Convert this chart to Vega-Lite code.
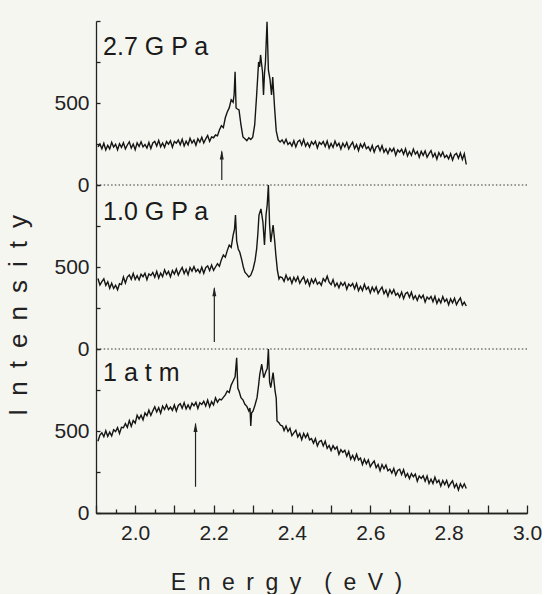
{
"$schema": "https://vega.github.io/schema/vega-lite/v6.json",
"background": "#f6f6f1",
"padding": {"left": 5, "top": 19, "right": 0, "bottom": 0},
"spacing": 0,
"bounds": "flush",
"config": {
  "font": "Liberation Sans",
  "view": {"stroke": null},
  "concat": {"spacing": 0},
  "axis": {"labelFont": "Liberation Sans", "titleFont": "Liberation Sans", "labelColor": "#222", "domainColor": "#222", "tickColor": "#222", "titleColor": "#222", "grid": false, "titleFontWeight": "normal", "labelFontSize": 21, "domainWidth": 1.3, "tickWidth": 1.3}
},
"datasets": {
"one": [{}],
"p27": [
{"e":1.905,"i":232},{"e":1.91,"i":250},{"e":1.915,"i":221},{"e":1.92,"i":255},{"e":1.925,"i":214},{"e":1.93,"i":242},{"e":1.935,"i":220},{"e":1.94,"i":260},{"e":1.945,"i":231},{"e":1.95,"i":248},{"e":1.955,"i":215},{"e":1.96,"i":252},{"e":1.965,"i":230},{"e":1.97,"i":258},{"e":1.975,"i":220},{"e":1.98,"i":244},{"e":1.985,"i":263},{"e":1.99,"i":225},{"e":1.995,"i":250},{"e":2.0,"i":215},
{"e":2.005,"i":257},{"e":2.01,"i":235},{"e":2.015,"i":263},{"e":2.02,"i":232},{"e":2.025,"i":247},{"e":2.03,"i":225},{"e":2.035,"i":259},{"e":2.04,"i":222},{"e":2.045,"i":256},{"e":2.05,"i":266},{"e":2.055,"i":238},{"e":2.06,"i":272},{"e":2.065,"i":233},{"e":2.07,"i":256},{"e":2.075,"i":230},{"e":2.08,"i":265},{"e":2.085,"i":249},{"e":2.09,"i":270},{"e":2.095,"i":231},{"e":2.1,"i":266},
{"e":2.105,"i":255},{"e":2.11,"i":274},{"e":2.115,"i":245},{"e":2.12,"i":279},{"e":2.125,"i":238},{"e":2.13,"i":267},{"e":2.135,"i":245},{"e":2.14,"i":285},{"e":2.145,"i":256},{"e":2.15,"i":274},{"e":2.155,"i":242},{"e":2.16,"i":282},{"e":2.165,"i":261},{"e":2.17,"i":291},{"e":2.175,"i":256},{"e":2.18,"i":281},{"e":2.185,"i":302},{"e":2.19,"i":266},{"e":2.195,"i":293},
{"e":2.2,"i":288},{"e":2.205,"i":305},{"e":2.21,"i":300},{"e":2.215,"i":335},{"e":2.22,"i":362},{"e":2.225,"i":350},{"e":2.23,"i":410},{"e":2.235,"i":445},{"e":2.24,"i":470},{"e":2.245,"i":520},{"e":2.25,"i":505},{"e":2.2525,"i":550},{"e":2.255,"i":690},{"e":2.2575,"i":470},{"e":2.26,"i":465},{"e":2.265,"i":458},{"e":2.27,"i":366},{"e":2.275,"i":293},{"e":2.28,"i":282},{"e":2.285,"i":270},{"e":2.29,"i":288},{"e":2.295,"i":278},{"e":2.3,"i":292},{"e":2.305,"i":366},{"e":2.31,"i":549},{"e":2.315,"i":750},{"e":2.3175,"i":720},{"e":2.32,"i":793},{"e":2.325,"i":689},{"e":2.3275,"i":549},{"e":2.33,"i":680},{"e":2.3325,"i":750},{"e":2.3365,"i":995},{"e":2.34,"i":700},{"e":2.344,"i":646},{"e":2.348,"i":549},{"e":2.351,"i":659},{"e":2.356,"i":463},{"e":2.36,"i":330},{"e":2.365,"i":275},{"e":2.37,"i":262},
{"e":2.375,"i":275},{"e":2.38,"i":253},{"e":2.385,"i":279},{"e":2.39,"i":247},{"e":2.395,"i":260},{"e":2.4,"i":238},{"e":2.405,"i":270},{"e":2.41,"i":232},{"e":2.415,"i":264},{"e":2.42,"i":274},{"e":2.425,"i":244},{"e":2.43,"i":277},{"e":2.435,"i":237},{"e":2.44,"i":258},{"e":2.445,"i":231},{"e":2.45,"i":264},{"e":2.455,"i":247},{"e":2.46,"i":267},{"e":2.465,"i":226},{"e":2.47,"i":260},
{"e":2.475,"i":248},{"e":2.48,"i":265},{"e":2.485,"i":235},{"e":2.49,"i":268},{"e":2.495,"i":225},{"e":2.5,"i":253},{"e":2.505,"i":229},{"e":2.51,"i":268},{"e":2.515,"i":238},{"e":2.52,"i":254},{"e":2.525,"i":219},{"e":2.53,"i":255},{"e":2.535,"i":232},{"e":2.54,"i":259},{"e":2.545,"i":220},{"e":2.55,"i":243},{"e":2.555,"i":261},{"e":2.56,"i":222},{"e":2.565,"i":246},{"e":2.57,"i":210},
{"e":2.575,"i":250},{"e":2.58,"i":228},{"e":2.585,"i":254},{"e":2.59,"i":221},{"e":2.595,"i":233},{"e":2.6,"i":209},{"e":2.605,"i":241},{"e":2.61,"i":201},{"e":2.615,"i":232},{"e":2.62,"i":240},{"e":2.625,"i":209},{"e":2.63,"i":240},{"e":2.635,"i":200},{"e":2.64,"i":220},{"e":2.645,"i":191},{"e":2.65,"i":223},{"e":2.655,"i":205},{"e":2.66,"i":224},{"e":2.665,"i":182},{"e":2.67,"i":214},
{"e":2.675,"i":201},{"e":2.68,"i":218},{"e":2.685,"i":187},{"e":2.69,"i":220},{"e":2.695,"i":177},{"e":2.7,"i":204},{"e":2.705,"i":180},{"e":2.71,"i":219},{"e":2.715,"i":188},{"e":2.72,"i":204},{"e":2.725,"i":169},{"e":2.73,"i":205},{"e":2.735,"i":181},{"e":2.74,"i":208},{"e":2.745,"i":169},{"e":2.75,"i":191},{"e":2.755,"i":210},{"e":2.76,"i":171},{"e":2.765,"i":194},{"e":2.77,"i":158},
{"e":2.775,"i":198},{"e":2.78,"i":175},{"e":2.785,"i":201},{"e":2.79,"i":168},{"e":2.795,"i":181},{"e":2.8,"i":159},{"e":2.805,"i":191},{"e":2.81,"i":152},{"e":2.815,"i":184},{"e":2.82,"i":193},{"e":2.825,"i":163},{"e":2.83,"i":195},{"e":2.835,"i":156},{"e":2.84,"i":191},{"e":2.845,"i":125}
],
"p10": [
{"e":1.905,"i":430},{"e":1.91,"i":390},{"e":1.915,"i":411},{"e":1.92,"i":428},{"e":1.925,"i":388},{"e":1.93,"i":410},{"e":1.935,"i":370},{"e":1.94,"i":401},{"e":1.945,"i":369},{"e":1.95,"i":389},{"e":1.955,"i":361},{"e":1.96,"i":398},{"e":1.965,"i":393},{"e":1.97,"i":439},{"e":1.975,"i":403},{"e":1.98,"i":439},{"e":1.985,"i":451},{"e":1.99,"i":425},{"e":1.995,"i":460},{"e":2.0,"i":424},
{"e":2.005,"i":447},{"e":2.01,"i":421},{"e":2.015,"i":456},{"e":2.02,"i":441},{"e":2.025,"i":462},{"e":2.03,"i":423},{"e":2.035,"i":458},{"e":2.04,"i":448},{"e":2.045,"i":467},{"e":2.05,"i":438},{"e":2.055,"i":474},{"e":2.06,"i":433},{"e":2.065,"i":463},{"e":2.07,"i":441},{"e":2.075,"i":483},{"e":2.08,"i":454},{"e":2.085,"i":473},{"e":2.09,"i":440},{"e":2.095,"i":479},{"e":2.1,"i":457},
{"e":2.105,"i":487},{"e":2.11,"i":451},{"e":2.115,"i":476},{"e":2.12,"i":497},{"e":2.125,"i":460},{"e":2.13,"i":486},{"e":2.135,"i":453},{"e":2.14,"i":496},{"e":2.145,"i":475},{"e":2.15,"i":503},{"e":2.155,"i":472},{"e":2.16,"i":486},{"e":2.165,"i":465},{"e":2.17,"i":499},{"e":2.175,"i":462},{"e":2.18,"i":496},{"e":2.185,"i":507},{"e":2.19,"i":478},{"e":2.195,"i":512},
{"e":2.2,"i":480},{"e":2.205,"i":500},{"e":2.21,"i":520},{"e":2.215,"i":505},{"e":2.22,"i":545},{"e":2.225,"i":573},{"e":2.23,"i":560},{"e":2.235,"i":600},{"e":2.24,"i":634},{"e":2.245,"i":620},{"e":2.25,"i":695},{"e":2.2535,"i":730},{"e":2.256,"i":817},{"e":2.259,"i":660},{"e":2.263,"i":610},{"e":2.267,"i":590},{"e":2.272,"i":543},{"e":2.276,"i":500},{"e":2.28,"i":469},{"e":2.285,"i":455},{"e":2.29,"i":439},{"e":2.295,"i":450},{"e":2.301,"i":488},{"e":2.306,"i":540},{"e":2.31,"i":610},{"e":2.313,"i":700},{"e":2.316,"i":817},{"e":2.321,"i":854},{"e":2.326,"i":774},{"e":2.33,"i":634},{"e":2.334,"i":817},{"e":2.337,"i":880},{"e":2.34,"i":1000},{"e":2.343,"i":760},{"e":2.346,"i":652},{"e":2.352,"i":756},{"e":2.356,"i":660},{"e":2.359,"i":573},{"e":2.363,"i":480},{"e":2.367,"i":427},{"e":2.37,"i":440},
{"e":2.375,"i":436},{"e":2.38,"i":412},{"e":2.385,"i":451},{"e":2.39,"i":420},{"e":2.395,"i":436},{"e":2.4,"i":401},{"e":2.405,"i":437},{"e":2.41,"i":413},{"e":2.415,"i":440},{"e":2.42,"i":401},{"e":2.425,"i":423},{"e":2.43,"i":440},{"e":2.435,"i":400},{"e":2.44,"i":423},{"e":2.445,"i":386},{"e":2.45,"i":426},{"e":2.455,"i":402},{"e":2.46,"i":428},{"e":2.465,"i":395},{"e":2.47,"i":408},
{"e":2.475,"i":389},{"e":2.48,"i":429},{"e":2.485,"i":412},{"e":2.49,"i":444},{"e":2.495,"i":407},{"e":2.5,"i":392},{"e":2.505,"i":423},{"e":2.51,"i":382},{"e":2.515,"i":402},{"e":2.52,"i":373},{"e":2.525,"i":405},{"e":2.53,"i":387},{"e":2.535,"i":406},{"e":2.54,"i":364},{"e":2.545,"i":396},{"e":2.55,"i":383},{"e":2.555,"i":399},{"e":2.56,"i":367},{"e":2.565,"i":399},{"e":2.57,"i":355},
{"e":2.575,"i":381},{"e":2.58,"i":356},{"e":2.585,"i":395},{"e":2.59,"i":363},{"e":2.595,"i":378},{"e":2.6,"i":342},{"e":2.605,"i":377},{"e":2.61,"i":352},{"e":2.615,"i":378},{"e":2.62,"i":339},{"e":2.625,"i":360},{"e":2.63,"i":377},{"e":2.635,"i":337},{"e":2.64,"i":359},{"e":2.645,"i":322},{"e":2.65,"i":361},{"e":2.655,"i":337},{"e":2.66,"i":362},{"e":2.665,"i":328},{"e":2.67,"i":340},
{"e":2.675,"i":316},{"e":2.68,"i":347},{"e":2.685,"i":307},{"e":2.69,"i":338},{"e":2.695,"i":346},{"e":2.7,"i":315},{"e":2.705,"i":346},{"e":2.71,"i":305},{"e":2.715,"i":325},{"e":2.72,"i":296},{"e":2.725,"i":328},{"e":2.73,"i":310},{"e":2.735,"i":328},{"e":2.74,"i":286},{"e":2.745,"i":317},{"e":2.75,"i":304},{"e":2.755,"i":320},{"e":2.76,"i":288},{"e":2.765,"i":321},{"e":2.77,"i":278},
{"e":2.775,"i":305},{"e":2.78,"i":281},{"e":2.785,"i":320},{"e":2.79,"i":289},{"e":2.795,"i":305},{"e":2.8,"i":270},{"e":2.805,"i":306},{"e":2.81,"i":282},{"e":2.815,"i":309},{"e":2.82,"i":270},{"e":2.825,"i":293},{"e":2.83,"i":311},{"e":2.835,"i":268},{"e":2.84,"i":286},{"e":2.845,"i":262}
],
"atm": [
{"e":1.905,"i":438},{"e":1.91,"i":475},{"e":1.915,"i":489},{"e":1.92,"i":465},{"e":1.925,"i":502},{"e":1.93,"i":467},{"e":1.935,"i":493},{"e":1.94,"i":470},{"e":1.945,"i":508},{"e":1.95,"i":497},{"e":1.955,"i":521},{"e":1.96,"i":485},{"e":1.965,"i":523},{"e":1.97,"i":520},{"e":1.975,"i":545},{"e":1.98,"i":522},{"e":1.985,"i":564},{"e":1.99,"i":529},{"e":1.995,"i":564},{"e":2.0,"i":548},
{"e":2.005,"i":596},{"e":2.01,"i":573},{"e":2.015,"i":596},{"e":2.02,"i":568},{"e":2.025,"i":610},{"e":2.03,"i":593},{"e":2.035,"i":627},{"e":2.04,"i":595},{"e":2.045,"i":623},{"e":2.05,"i":648},{"e":2.055,"i":616},{"e":2.06,"i":642},{"e":2.065,"i":609},{"e":2.07,"i":652},{"e":2.075,"i":631},{"e":2.08,"i":660},{"e":2.085,"i":630},{"e":2.09,"i":646},{"e":2.095,"i":626},{"e":2.1,"i":659},
{"e":2.105,"i":622},{"e":2.11,"i":656},{"e":2.115,"i":667},{"e":2.12,"i":639},{"e":2.125,"i":673},{"e":2.13,"i":635},{"e":2.135,"i":659},{"e":2.14,"i":634},{"e":2.145,"i":669},{"e":2.15,"i":654},{"e":2.155,"i":675},{"e":2.16,"i":637},{"e":2.165,"i":672},{"e":2.17,"i":662},{"e":2.175,"i":681},{"e":2.18,"i":652},{"e":2.185,"i":688},{"e":2.19,"i":648},{"e":2.195,"i":679},{"e":2.2,"i":659},{"e":2.205,"i":702},{"e":2.21,"i":675},{"e":2.215,"i":695},
{"e":2.22,"i":690},{"e":2.225,"i":705},{"e":2.23,"i":720},{"e":2.235,"i":744},{"e":2.24,"i":735},{"e":2.245,"i":780},{"e":2.25,"i":805},{"e":2.255,"i":830},{"e":2.259,"i":947},{"e":2.262,"i":760},{"e":2.265,"i":744},{"e":2.27,"i":703},{"e":2.275,"i":690},{"e":2.28,"i":663},{"e":2.285,"i":650},{"e":2.29,"i":622},{"e":2.293,"i":640},{"e":2.295,"i":530},{"e":2.297,"i":610},{"e":2.301,"i":622},{"e":2.306,"i":660},{"e":2.311,"i":703},{"e":2.315,"i":780},{"e":2.318,"i":846},{"e":2.323,"i":907},{"e":2.328,"i":825},{"e":2.334,"i":866},{"e":2.337,"i":880},{"e":2.34,"i":1000},{"e":2.343,"i":800},{"e":2.346,"i":764},{"e":2.352,"i":856},{"e":2.357,"i":744},{"e":2.36,"i":700},{"e":2.362,"i":561},{"e":2.367,"i":550},{"e":2.371,"i":535},{"e":2.376,"i":530},
{"e":2.38,"i":503},{"e":2.385,"i":530},{"e":2.39,"i":497},{"e":2.395,"i":517},{"e":2.4,"i":472},{"e":2.405,"i":489},{"e":2.41,"i":505},{"e":2.415,"i":464},{"e":2.42,"i":485},{"e":2.425,"i":447},{"e":2.43,"i":485},{"e":2.435,"i":460},{"e":2.44,"i":484},{"e":2.445,"i":446},{"e":2.45,"i":454},{"e":2.455,"i":426},{"e":2.46,"i":453},{"e":2.465,"i":409},{"e":2.47,"i":436},
{"e":2.475,"i":442},{"e":2.48,"i":409},{"e":2.485,"i":438},{"e":2.49,"i":394},{"e":2.495,"i":412},{"e":2.5,"i":381},{"e":2.505,"i":411},{"e":2.51,"i":389},{"e":2.515,"i":404},{"e":2.52,"i":358},{"e":2.525,"i":386},{"e":2.53,"i":370},{"e":2.535,"i":382},{"e":2.54,"i":346},{"e":2.545,"i":375},{"e":2.55,"i":328},{"e":2.555,"i":351},{"e":2.56,"i":323},{"e":2.565,"i":358},{"e":2.57,"i":323},
{"e":2.575,"i":335},{"e":2.58,"i":296},{"e":2.585,"i":328},{"e":2.59,"i":300},{"e":2.595,"i":324},{"e":2.6,"i":282},{"e":2.605,"i":302},{"e":2.61,"i":317},{"e":2.615,"i":276},{"e":2.62,"i":296},{"e":2.625,"i":258},{"e":2.63,"i":295},{"e":2.635,"i":270},{"e":2.64,"i":293},{"e":2.645,"i":258},{"e":2.65,"i":268},{"e":2.655,"i":243},{"e":2.66,"i":272},{"e":2.665,"i":231},{"e":2.67,"i":260},
{"e":2.675,"i":267},{"e":2.68,"i":234},{"e":2.685,"i":264},{"e":2.69,"i":221},{"e":2.695,"i":240},{"e":2.7,"i":210},{"e":2.705,"i":240},{"e":2.71,"i":221},{"e":2.715,"i":237},{"e":2.72,"i":194},{"e":2.725,"i":225},{"e":2.73,"i":211},{"e":2.735,"i":227},{"e":2.74,"i":194},{"e":2.745,"i":225},{"e":2.75,"i":180},{"e":2.755,"i":206},{"e":2.76,"i":180},{"e":2.765,"i":218},{"e":2.77,"i":185},
{"e":2.775,"i":200},{"e":2.78,"i":164},{"e":2.785,"i":198},{"e":2.79,"i":173},{"e":2.795,"i":199},{"e":2.8,"i":159},{"e":2.805,"i":180},{"e":2.81,"i":196},{"e":2.815,"i":156},{"e":2.82,"i":177},{"e":2.825,"i":140},{"e":2.83,"i":178},{"e":2.835,"i":154},{"e":2.84,"i":178},{"e":2.845,"i":150}
]
},
"vconcat": [
{
  "width": 431, "height": 164,
  "layer": [
    {"data": {"name": "one"},
     "mark": {"type": "rule", "strokeDash": [1.5, 2.2], "color": "#333", "strokeWidth": 1.2},
     "encoding": {"y": {"datum": 0, "type": "quantitative", "scale": {"domain": [0, 1000], "nice": false}}}},
    {"data": {"name": "p27"},
     "mark": {"type": "line", "color": "#151515", "strokeWidth": 1.4, "clip": false},
     "encoding": {
       "x": {"field": "e", "type": "quantitative", "scale": {"domain": [1.9, 3.0], "nice": false, "zero": false}, "axis": null},
       "y": {"field": "i", "type": "quantitative", "scale": {"domain": [0, 1000], "nice": false},
             "axis": {"values": [0,125,250,375,500,625,750,875,1000], "tickSize": -4, "labelPadding": 11, "labelExpr": "datum.value == 0 || datum.value == 500 ? datum.label : ''", "title": null}}}},
    {"data": {"name": "one"},
     "mark": {"type": "rule", "color": "#222", "strokeWidth": 1.2},
     "encoding": {"x": {"datum": 2.221, "type": "quantitative"}, "y": {"datum": 30, "type": "quantitative"}, "y2": {"datum": 205}}},
    {"data": {"name": "one"},
     "mark": {"type": "point", "shape": "M0,-1L0.42,1L-0.42,1Z", "filled": true, "color": "#222", "opacity": 1, "size": 90},
     "encoding": {"x": {"datum": 2.221, "type": "quantitative"}, "y": {"datum": 185, "type": "quantitative"}}},
    {"data": {"name": "one"},
     "mark": {"type": "text", "text": "2.7 G P a", "fontSize": 25, "align": "left", "baseline": "middle", "color": "#1a1a1a", "font": "Liberation Sans"},
     "encoding": {"x": {"datum": 1.918, "type": "quantitative"}, "y": {"datum": 841, "type": "quantitative"}}}
  ]
},
{
  "width": 431, "height": 164,
  "layer": [
    {"data": {"name": "one"},
     "mark": {"type": "rule", "strokeDash": [1.5, 2.2], "color": "#333", "strokeWidth": 1.2},
     "encoding": {"y": {"datum": 0, "type": "quantitative", "scale": {"domain": [0, 1000], "nice": false}}}},
    {"data": {"name": "p10"},
     "mark": {"type": "line", "color": "#151515", "strokeWidth": 1.4, "clip": false},
     "encoding": {
       "x": {"field": "e", "type": "quantitative", "scale": {"domain": [1.9, 3.0], "nice": false, "zero": false}, "axis": null},
       "y": {"field": "i", "type": "quantitative", "scale": {"domain": [0, 1000], "nice": false},
             "axis": {"values": [0,125,250,375,500,625,750,875,1000], "tickSize": -4, "labelPadding": 11, "labelExpr": "datum.value == 0 || datum.value == 500 ? datum.label : ''",
                      "title": "I\u2002n\u2002t\u2002e\u2002n\u2002s\u2002i\u2002t\u2002y", "titleFontSize": 26, "titleX": -78, "titleY": 130, "titleAlign": "center", "titleBaseline": "middle", "titleAngle": 270}}}},
    {"data": {"name": "one"},
     "mark": {"type": "rule", "color": "#222", "strokeWidth": 1.2},
     "encoding": {"x": {"datum": 2.202, "type": "quantitative"}, "y": {"datum": 43, "type": "quantitative"}, "y2": {"datum": 370}}},
    {"data": {"name": "one"},
     "mark": {"type": "point", "shape": "M0,-1L0.42,1L-0.42,1Z", "filled": true, "color": "#222", "opacity": 1, "size": 90},
     "encoding": {"x": {"datum": 2.202, "type": "quantitative"}, "y": {"datum": 350, "type": "quantitative"}}},
    {"data": {"name": "one"},
     "mark": {"type": "text", "text": "1.0 G P a", "fontSize": 25, "align": "left", "baseline": "middle", "color": "#1a1a1a", "font": "Liberation Sans"},
     "encoding": {"x": {"datum": 1.918, "type": "quantitative"}, "y": {"datum": 835, "type": "quantitative"}}}
  ]
},
{
  "width": 431, "height": 164,
  "resolve": {"axis": {"x": "independent"}},
  "layer": [
    {"data": {"name": "atm"},
     "mark": {"type": "line", "color": "#151515", "strokeWidth": 1.4, "clip": false},
     "encoding": {
       "x": {"field": "e", "type": "quantitative", "scale": {"domain": [1.9, 3.0], "nice": false, "zero": false},
             "axis": {"orient": "bottom", "values": [1.95,2.05,2.15,2.25,2.35,2.45,2.55,2.65,2.75,2.85,2.95], "tickSize": -4, "labels": false, "title": null, "domain": true}},
       "y": {"field": "i", "type": "quantitative", "scale": {"domain": [0, 1000], "nice": false},
             "axis": {"values": [0,125,250,375,500,625,750,875,1000], "tickSize": -4, "labelPadding": 11, "labelExpr": "datum.value == 0 || datum.value == 500 ? datum.label : ''", "title": null}}}},
    {"data": {"name": "one"},
     "mark": {"type": "rule", "color": "#222", "strokeWidth": 1.2},
     "encoding": {"x": {"datum": 2.154, "type": "quantitative",
                        "axis": {"orient": "bottom", "values": [1.9,2.0,2.1,2.2,2.3,2.4,2.5,2.6,2.7,2.8,2.9,3.0], "tickSize": -8, "labelPadding": 17,
                                 "labelExpr": "round(datum.value*10) % 2 == 0 ? format(datum.value, '.1f') : ''",
                                 "labelOverlap": false, "labelFlush": false, "domain": true,
                                 "title": "E\u2002n\u2002e\u2002r\u2002g\u2002y\u2003(\u2002e\u2002V\u2002)", "titleFontSize": 23, "titleX": 190, "titleY": 69, "titleAlign": "center", "titleBaseline": "middle"}},
                  "y": {"datum": 160, "type": "quantitative"}, "y2": {"datum": 545}}},
    {"data": {"name": "one"},
     "mark": {"type": "point", "shape": "M0,-1L0.42,1L-0.42,1Z", "filled": true, "color": "#222", "opacity": 1, "size": 90},
     "encoding": {"x": {"datum": 2.154, "type": "quantitative", "axis": null}, "y": {"datum": 523, "type": "quantitative"}}},
    {"data": {"name": "one"},
     "mark": {"type": "text", "text": "1 a t m", "fontSize": 25, "align": "left", "baseline": "middle", "color": "#1a1a1a", "font": "Liberation Sans"},
     "encoding": {"x": {"datum": 1.918, "type": "quantitative", "axis": null}, "y": {"datum": 854, "type": "quantitative"}}}
  ]
}
]
}
